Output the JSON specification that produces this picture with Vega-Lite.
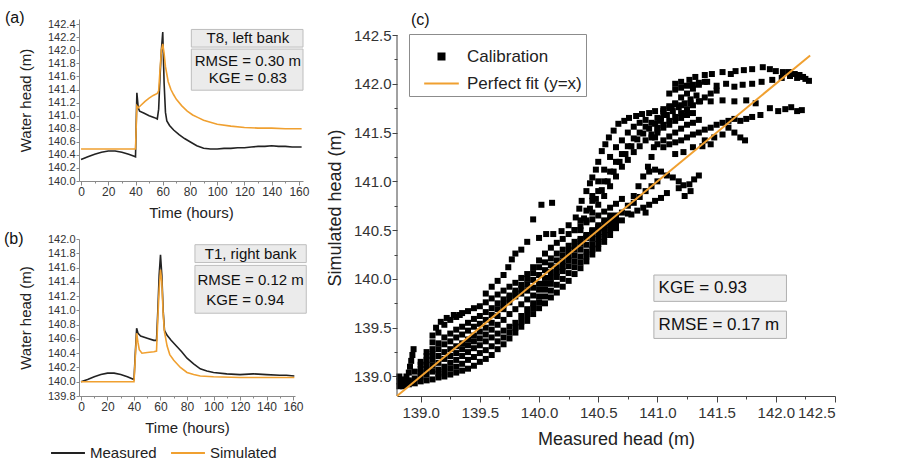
{
  "$schema": "https://vega.github.io/schema/vega-lite/v6.json",
  "background": "white",
  "padding": {"left": 4, "top": 10, "right": 0, "bottom": 0},
  "config": {
    "font": "Liberation Sans",
    "view": {"stroke": null},
    "axis": {"grid": false, "domainColor": "#8a8a8a", "tickColor": "#8a8a8a", "labelColor": "#333333", "titleColor": "#222222", "titleFontWeight": "normal", "labelOverlap": false},
    "title": {"fontWeight": "normal", "fontSize": 16, "anchor": "start", "frame": "group", "color": "#111111"},
    "text": {"font": "Liberation Sans", "color": "#111111"}
  },
  "datasets": {
    "a": [
      {"time": 0, "head": 140.33, "series": "Measured"}, {"time": 5, "head": 140.37, "series": "Measured"}, {"time": 10, "head": 140.41, "series": "Measured"}, {"time": 15, "head": 140.44, "series": "Measured"}, {"time": 20, "head": 140.46, "series": "Measured"}, {"time": 25, "head": 140.46, "series": "Measured"}, {"time": 30, "head": 140.44, "series": "Measured"}, {"time": 35, "head": 140.41, "series": "Measured"}, {"time": 39, "head": 140.38, "series": "Measured"}, {"time": 40, "head": 140.37, "series": "Measured"}, {"time": 41, "head": 141.35, "series": "Measured"}, {"time": 42, "head": 141.12, "series": "Measured"}, {"time": 43, "head": 141.07, "series": "Measured"}, {"time": 46, "head": 141.04, "series": "Measured"}, {"time": 50, "head": 141.0, "series": "Measured"}, {"time": 54, "head": 140.97, "series": "Measured"}, {"time": 56, "head": 140.95, "series": "Measured"}, {"time": 57, "head": 141.1, "series": "Measured"}, {"time": 58, "head": 141.6, "series": "Measured"}, {"time": 59, "head": 142.0, "series": "Measured"}, {"time": 60, "head": 142.28, "series": "Measured"}, {"time": 61, "head": 141.5, "series": "Measured"}, {"time": 62, "head": 141.05, "series": "Measured"}, {"time": 63, "head": 140.92, "series": "Measured"}, {"time": 65, "head": 140.85, "series": "Measured"}, {"time": 68, "head": 140.78, "series": "Measured"}, {"time": 72, "head": 140.71, "series": "Measured"}, {"time": 76, "head": 140.65, "series": "Measured"}, {"time": 80, "head": 140.6, "series": "Measured"}, {"time": 85, "head": 140.54, "series": "Measured"}, {"time": 90, "head": 140.5, "series": "Measured"}, {"time": 95, "head": 140.49, "series": "Measured"}, {"time": 100, "head": 140.49, "series": "Measured"}, {"time": 105, "head": 140.5, "series": "Measured"}, {"time": 110, "head": 140.5, "series": "Measured"}, {"time": 115, "head": 140.51, "series": "Measured"}, {"time": 120, "head": 140.51, "series": "Measured"}, {"time": 125, "head": 140.52, "series": "Measured"}, {"time": 130, "head": 140.53, "series": "Measured"}, {"time": 135, "head": 140.53, "series": "Measured"}, {"time": 140, "head": 140.54, "series": "Measured"}, {"time": 145, "head": 140.53, "series": "Measured"}, {"time": 150, "head": 140.53, "series": "Measured"}, {"time": 155, "head": 140.52, "series": "Measured"}, {"time": 162, "head": 140.52, "series": "Measured"},
      {"time": 0, "head": 140.49, "series": "Simulated"}, {"time": 40, "head": 140.49, "series": "Simulated"}, {"time": 41, "head": 141.15, "series": "Simulated"}, {"time": 42, "head": 141.12, "series": "Simulated"}, {"time": 44, "head": 141.16, "series": "Simulated"}, {"time": 47, "head": 141.22, "series": "Simulated"}, {"time": 50, "head": 141.27, "series": "Simulated"}, {"time": 53, "head": 141.31, "series": "Simulated"}, {"time": 56, "head": 141.34, "series": "Simulated"}, {"time": 57, "head": 141.38, "series": "Simulated"}, {"time": 58, "head": 141.7, "series": "Simulated"}, {"time": 59, "head": 142.0, "series": "Simulated"}, {"time": 60, "head": 142.1, "series": "Simulated"}, {"time": 61, "head": 141.95, "series": "Simulated"}, {"time": 62, "head": 141.75, "series": "Simulated"}, {"time": 64, "head": 141.52, "series": "Simulated"}, {"time": 66, "head": 141.4, "series": "Simulated"}, {"time": 68, "head": 141.32, "series": "Simulated"}, {"time": 70, "head": 141.25, "series": "Simulated"}, {"time": 74, "head": 141.15, "series": "Simulated"}, {"time": 78, "head": 141.07, "series": "Simulated"}, {"time": 82, "head": 141.01, "series": "Simulated"}, {"time": 86, "head": 140.97, "series": "Simulated"}, {"time": 90, "head": 140.93, "series": "Simulated"}, {"time": 95, "head": 140.9, "series": "Simulated"}, {"time": 100, "head": 140.87, "series": "Simulated"}, {"time": 110, "head": 140.84, "series": "Simulated"}, {"time": 120, "head": 140.82, "series": "Simulated"}, {"time": 130, "head": 140.81, "series": "Simulated"}, {"time": 140, "head": 140.81, "series": "Simulated"}, {"time": 150, "head": 140.8, "series": "Simulated"}, {"time": 162, "head": 140.8, "series": "Simulated"}
    ],
    "b": [
      {"time": 0, "head": 140.0, "series": "Measured"}, {"time": 5, "head": 140.03, "series": "Measured"}, {"time": 10, "head": 140.07, "series": "Measured"}, {"time": 15, "head": 140.1, "series": "Measured"}, {"time": 20, "head": 140.12, "series": "Measured"}, {"time": 25, "head": 140.12, "series": "Measured"}, {"time": 30, "head": 140.1, "series": "Measured"}, {"time": 35, "head": 140.07, "series": "Measured"}, {"time": 40, "head": 140.03, "series": "Measured"}, {"time": 41, "head": 140.4, "series": "Measured"}, {"time": 42, "head": 140.75, "series": "Measured"}, {"time": 43, "head": 140.68, "series": "Measured"}, {"time": 45, "head": 140.64, "series": "Measured"}, {"time": 50, "head": 140.61, "series": "Measured"}, {"time": 55, "head": 140.58, "series": "Measured"}, {"time": 57, "head": 140.58, "series": "Measured"}, {"time": 58, "head": 141.0, "series": "Measured"}, {"time": 59, "head": 141.5, "series": "Measured"}, {"time": 60, "head": 141.78, "series": "Measured"}, {"time": 61, "head": 141.5, "series": "Measured"}, {"time": 62, "head": 141.0, "series": "Measured"}, {"time": 63, "head": 140.72, "series": "Measured"}, {"time": 65, "head": 140.65, "series": "Measured"}, {"time": 68, "head": 140.58, "series": "Measured"}, {"time": 72, "head": 140.5, "series": "Measured"}, {"time": 76, "head": 140.42, "series": "Measured"}, {"time": 80, "head": 140.33, "series": "Measured"}, {"time": 85, "head": 140.25, "series": "Measured"}, {"time": 90, "head": 140.18, "series": "Measured"}, {"time": 95, "head": 140.15, "series": "Measured"}, {"time": 100, "head": 140.13, "series": "Measured"}, {"time": 110, "head": 140.11, "series": "Measured"}, {"time": 120, "head": 140.1, "series": "Measured"}, {"time": 130, "head": 140.11, "series": "Measured"}, {"time": 140, "head": 140.1, "series": "Measured"}, {"time": 150, "head": 140.09, "series": "Measured"}, {"time": 155, "head": 140.09, "series": "Measured"}, {"time": 161, "head": 140.08, "series": "Measured"},
      {"time": 0, "head": 140.0, "series": "Simulated"}, {"time": 40, "head": 140.0, "series": "Simulated"}, {"time": 41, "head": 140.35, "series": "Simulated"}, {"time": 42, "head": 140.68, "series": "Simulated"}, {"time": 43, "head": 140.55, "series": "Simulated"}, {"time": 44, "head": 140.45, "series": "Simulated"}, {"time": 46, "head": 140.4, "series": "Simulated"}, {"time": 50, "head": 140.41, "series": "Simulated"}, {"time": 55, "head": 140.42, "series": "Simulated"}, {"time": 57, "head": 140.43, "series": "Simulated"}, {"time": 58, "head": 140.9, "series": "Simulated"}, {"time": 59, "head": 141.3, "series": "Simulated"}, {"time": 60, "head": 141.57, "series": "Simulated"}, {"time": 61, "head": 141.4, "series": "Simulated"}, {"time": 62, "head": 140.95, "series": "Simulated"}, {"time": 63, "head": 140.7, "series": "Simulated"}, {"time": 65, "head": 140.5, "series": "Simulated"}, {"time": 67, "head": 140.38, "series": "Simulated"}, {"time": 70, "head": 140.3, "series": "Simulated"}, {"time": 75, "head": 140.2, "series": "Simulated"}, {"time": 80, "head": 140.13, "series": "Simulated"}, {"time": 85, "head": 140.1, "series": "Simulated"}, {"time": 90, "head": 140.08, "series": "Simulated"}, {"time": 100, "head": 140.07, "series": "Simulated"}, {"time": 120, "head": 140.06, "series": "Simulated"}, {"time": 140, "head": 140.06, "series": "Simulated"}, {"time": 161, "head": 140.06, "series": "Simulated"}
    ],
    "fit": [{"meas": 138.8, "sim": 138.8}, {"meas": 142.29, "sim": 142.29}],
    "calib": [
      {"meas": 138.82, "sim": 138.9}, {"meas": 138.86, "sim": 138.91}, {"meas": 138.82, "sim": 138.95}, {"meas": 138.86, "sim": 138.97}, {"meas": 138.9, "sim": 138.96}, {"meas": 138.82, "sim": 139.0}, {"meas": 138.88, "sim": 139.0},
      {"meas": 138.9, "sim": 139.04}, {"meas": 138.91, "sim": 139.1}, {"meas": 138.92, "sim": 139.16}, {"meas": 138.93, "sim": 139.22}, {"meas": 138.94, "sim": 139.28},
      {"meas": 138.85, "sim": 138.9}, {"meas": 138.9, "sim": 138.92}, {"meas": 138.95, "sim": 138.93}, {"meas": 139.0, "sim": 138.95}, {"meas": 139.05, "sim": 138.96}, {"meas": 139.1, "sim": 138.97}, {"meas": 139.15, "sim": 138.99}, {"meas": 139.2, "sim": 139.0}, {"meas": 139.25, "sim": 139.02}, {"meas": 139.3, "sim": 139.04}, {"meas": 139.35, "sim": 139.06}, {"meas": 139.4, "sim": 139.08}, {"meas": 139.45, "sim": 139.11}, {"meas": 139.5, "sim": 139.15}, {"meas": 139.55, "sim": 139.18}, {"meas": 139.6, "sim": 139.22}, {"meas": 139.65, "sim": 139.28}, {"meas": 139.7, "sim": 139.33}, {"meas": 139.75, "sim": 139.39}, {"meas": 139.8, "sim": 139.45}, {"meas": 139.85, "sim": 139.51}, {"meas": 139.9, "sim": 139.57}, {"meas": 139.95, "sim": 139.64}, {"meas": 140.0, "sim": 139.7}, {"meas": 140.05, "sim": 139.75}, {"meas": 140.1, "sim": 139.81}, {"meas": 140.15, "sim": 139.86}, {"meas": 140.2, "sim": 139.92}, {"meas": 140.25, "sim": 139.98}, {"meas": 140.3, "sim": 140.05}, {"meas": 140.35, "sim": 140.11}, {"meas": 140.4, "sim": 140.18}, {"meas": 140.45, "sim": 140.25}, {"meas": 140.5, "sim": 140.31}, {"meas": 140.55, "sim": 140.38}, {"meas": 140.6, "sim": 140.45}, {"meas": 140.65, "sim": 140.52}, {"meas": 140.7, "sim": 140.6}, {"meas": 140.75, "sim": 140.67},
      {"meas": 139.15, "sim": 139.03}, {"meas": 139.2, "sim": 139.05}, {"meas": 139.25, "sim": 139.08}, {"meas": 139.3, "sim": 139.1}, {"meas": 139.35, "sim": 139.13}, {"meas": 139.4, "sim": 139.17}, {"meas": 139.45, "sim": 139.2}, {"meas": 139.5, "sim": 139.24}, {"meas": 139.55, "sim": 139.27}, {"meas": 139.6, "sim": 139.31}, {"meas": 139.65, "sim": 139.36}, {"meas": 139.7, "sim": 139.4}, {"meas": 139.75, "sim": 139.45}, {"meas": 139.8, "sim": 139.5}, {"meas": 139.85, "sim": 139.56}, {"meas": 139.9, "sim": 139.63}, {"meas": 139.95, "sim": 139.7}, {"meas": 140.0, "sim": 139.76}, {"meas": 140.05, "sim": 139.82}, {"meas": 140.1, "sim": 139.88}, {"meas": 140.15, "sim": 139.94}, {"meas": 140.2, "sim": 140.0}, {"meas": 140.25, "sim": 140.06}, {"meas": 140.3, "sim": 140.12}, {"meas": 140.35, "sim": 140.17}, {"meas": 140.4, "sim": 140.23}, {"meas": 140.45, "sim": 140.3}, {"meas": 140.5, "sim": 140.36}, {"meas": 140.55, "sim": 140.43}, {"meas": 140.6, "sim": 140.5}, {"meas": 140.65, "sim": 140.57},
      {"meas": 138.85, "sim": 138.93}, {"meas": 138.9, "sim": 138.95}, {"meas": 138.95, "sim": 138.98}, {"meas": 139.0, "sim": 139.0}, {"meas": 139.05, "sim": 139.02}, {"meas": 139.1, "sim": 139.05}, {"meas": 139.15, "sim": 139.07}, {"meas": 139.2, "sim": 139.1}, {"meas": 139.25, "sim": 139.14}, {"meas": 139.3, "sim": 139.17}, {"meas": 139.35, "sim": 139.21}, {"meas": 139.4, "sim": 139.25}, {"meas": 139.45, "sim": 139.29}, {"meas": 139.5, "sim": 139.32}, {"meas": 139.55, "sim": 139.36}, {"meas": 139.6, "sim": 139.4}, {"meas": 139.65, "sim": 139.44}, {"meas": 139.7, "sim": 139.47}, {"meas": 139.75, "sim": 139.51}, {"meas": 139.8, "sim": 139.55}, {"meas": 139.85, "sim": 139.62}, {"meas": 139.9, "sim": 139.69}, {"meas": 139.95, "sim": 139.75}, {"meas": 140.0, "sim": 139.82}, {"meas": 140.05, "sim": 139.89}, {"meas": 140.1, "sim": 139.95}, {"meas": 140.15, "sim": 140.02}, {"meas": 140.2, "sim": 140.08}, {"meas": 140.25, "sim": 140.13}, {"meas": 140.3, "sim": 140.18}, {"meas": 140.35, "sim": 140.23}, {"meas": 140.4, "sim": 140.28}, {"meas": 140.45, "sim": 140.35}, {"meas": 140.5, "sim": 140.41}, {"meas": 140.55, "sim": 140.48}, {"meas": 140.6, "sim": 140.55}, {"meas": 140.65, "sim": 140.61}, {"meas": 140.7, "sim": 140.68}, {"meas": 140.75, "sim": 140.75},
      {"meas": 139.0, "sim": 139.04}, {"meas": 139.05, "sim": 139.07}, {"meas": 139.1, "sim": 139.11}, {"meas": 139.15, "sim": 139.14}, {"meas": 139.2, "sim": 139.18}, {"meas": 139.25, "sim": 139.21}, {"meas": 139.3, "sim": 139.24}, {"meas": 139.35, "sim": 139.28}, {"meas": 139.4, "sim": 139.32}, {"meas": 139.45, "sim": 139.36}, {"meas": 139.5, "sim": 139.39}, {"meas": 139.55, "sim": 139.43}, {"meas": 139.6, "sim": 139.48}, {"meas": 139.65, "sim": 139.53}, {"meas": 139.7, "sim": 139.58}, {"meas": 139.75, "sim": 139.64}, {"meas": 139.8, "sim": 139.69}, {"meas": 139.85, "sim": 139.74}, {"meas": 139.9, "sim": 139.79}, {"meas": 139.95, "sim": 139.83}, {"meas": 140.0, "sim": 139.89}, {"meas": 140.05, "sim": 139.95}, {"meas": 140.1, "sim": 140.01}, {"meas": 140.15, "sim": 140.07}, {"meas": 140.2, "sim": 140.13}, {"meas": 140.25, "sim": 140.19}, {"meas": 140.3, "sim": 140.24}, {"meas": 140.35, "sim": 140.3}, {"meas": 140.4, "sim": 140.35}, {"meas": 140.45, "sim": 140.41}, {"meas": 140.5, "sim": 140.46}, {"meas": 140.55, "sim": 140.52}, {"meas": 140.6, "sim": 140.58},
      {"meas": 138.95, "sim": 139.05}, {"meas": 139.0, "sim": 139.08}, {"meas": 139.05, "sim": 139.12}, {"meas": 139.1, "sim": 139.17}, {"meas": 139.15, "sim": 139.21}, {"meas": 139.2, "sim": 139.25}, {"meas": 139.25, "sim": 139.28}, {"meas": 139.3, "sim": 139.31}, {"meas": 139.35, "sim": 139.34}, {"meas": 139.4, "sim": 139.38}, {"meas": 139.45, "sim": 139.42}, {"meas": 139.5, "sim": 139.46}, {"meas": 139.55, "sim": 139.5}, {"meas": 139.6, "sim": 139.55}, {"meas": 139.65, "sim": 139.62}, {"meas": 139.7, "sim": 139.69}, {"meas": 139.75, "sim": 139.76}, {"meas": 139.8, "sim": 139.82}, {"meas": 139.85, "sim": 139.85}, {"meas": 139.9, "sim": 139.88}, {"meas": 139.95, "sim": 139.91}, {"meas": 140.0, "sim": 139.95}, {"meas": 140.05, "sim": 140.01}, {"meas": 140.1, "sim": 140.07}, {"meas": 140.15, "sim": 140.12}, {"meas": 140.2, "sim": 140.18}, {"meas": 140.25, "sim": 140.24}, {"meas": 140.3, "sim": 140.3}, {"meas": 140.35, "sim": 140.36}, {"meas": 140.4, "sim": 140.42}, {"meas": 140.45, "sim": 140.47}, {"meas": 140.5, "sim": 140.51}, {"meas": 140.55, "sim": 140.56}, {"meas": 140.6, "sim": 140.6}, {"meas": 140.65, "sim": 140.65},
      {"meas": 139.0, "sim": 139.12}, {"meas": 139.05, "sim": 139.17}, {"meas": 139.1, "sim": 139.23}, {"meas": 139.15, "sim": 139.28}, {"meas": 139.2, "sim": 139.33}, {"meas": 139.25, "sim": 139.36}, {"meas": 139.3, "sim": 139.4}, {"meas": 139.35, "sim": 139.43}, {"meas": 139.4, "sim": 139.47}, {"meas": 139.45, "sim": 139.51}, {"meas": 139.5, "sim": 139.54}, {"meas": 139.55, "sim": 139.58}, {"meas": 139.6, "sim": 139.63}, {"meas": 139.65, "sim": 139.69}, {"meas": 139.7, "sim": 139.74}, {"meas": 139.75, "sim": 139.8}, {"meas": 139.8, "sim": 139.85}, {"meas": 139.85, "sim": 139.9}, {"meas": 139.9, "sim": 139.94}, {"meas": 139.95, "sim": 139.99}, {"meas": 140.0, "sim": 140.04}, {"meas": 140.05, "sim": 140.09}, {"meas": 140.1, "sim": 140.14}, {"meas": 140.15, "sim": 140.19}, {"meas": 140.2, "sim": 140.24}, {"meas": 140.25, "sim": 140.29}, {"meas": 140.3, "sim": 140.34}, {"meas": 140.35, "sim": 140.39}, {"meas": 140.4, "sim": 140.44}, {"meas": 140.45, "sim": 140.49}, {"meas": 140.5, "sim": 140.53},
      {"meas": 139.0, "sim": 139.15}, {"meas": 139.05, "sim": 139.21}, {"meas": 139.1, "sim": 139.28}, {"meas": 139.15, "sim": 139.34}, {"meas": 139.2, "sim": 139.4}, {"meas": 139.25, "sim": 139.44}, {"meas": 139.3, "sim": 139.48}, {"meas": 139.35, "sim": 139.51}, {"meas": 139.4, "sim": 139.55}, {"meas": 139.45, "sim": 139.59}, {"meas": 139.5, "sim": 139.62}, {"meas": 139.55, "sim": 139.66}, {"meas": 139.6, "sim": 139.7}, {"meas": 139.65, "sim": 139.75}, {"meas": 139.7, "sim": 139.79}, {"meas": 139.75, "sim": 139.83}, {"meas": 139.8, "sim": 139.88}, {"meas": 139.85, "sim": 139.94}, {"meas": 139.9, "sim": 140.0}, {"meas": 139.95, "sim": 140.06}, {"meas": 140.0, "sim": 140.12}, {"meas": 140.05, "sim": 140.17}, {"meas": 140.1, "sim": 140.21}, {"meas": 140.15, "sim": 140.26}, {"meas": 140.2, "sim": 140.3}, {"meas": 140.25, "sim": 140.34}, {"meas": 140.3, "sim": 140.38}, {"meas": 140.35, "sim": 140.41}, {"meas": 140.4, "sim": 140.45}, {"meas": 140.45, "sim": 140.5}, {"meas": 140.5, "sim": 140.55}, {"meas": 140.55, "sim": 140.6}, {"meas": 140.6, "sim": 140.65},
      {"meas": 139.05, "sim": 139.25}, {"meas": 139.1, "sim": 139.35}, {"meas": 139.15, "sim": 139.45}, {"meas": 139.2, "sim": 139.53}, {"meas": 139.25, "sim": 139.58}, {"meas": 139.3, "sim": 139.61}, {"meas": 139.35, "sim": 139.65}, {"meas": 139.4, "sim": 139.67}, {"meas": 139.45, "sim": 139.7}, {"meas": 139.5, "sim": 139.72}, {"meas": 139.55, "sim": 139.76}, {"meas": 139.6, "sim": 139.8}, {"meas": 139.65, "sim": 139.84}, {"meas": 139.7, "sim": 139.88}, {"meas": 139.75, "sim": 139.92}, {"meas": 139.8, "sim": 139.96}, {"meas": 139.85, "sim": 140.01}, {"meas": 139.9, "sim": 140.05}, {"meas": 139.95, "sim": 140.12}, {"meas": 140.0, "sim": 140.19}, {"meas": 140.05, "sim": 140.26}, {"meas": 140.1, "sim": 140.32}, {"meas": 140.15, "sim": 140.37}, {"meas": 140.2, "sim": 140.41}, {"meas": 140.25, "sim": 140.46}, {"meas": 140.3, "sim": 140.5}, {"meas": 140.35, "sim": 140.54}, {"meas": 140.4, "sim": 140.58}, {"meas": 140.45, "sim": 140.61}, {"meas": 140.5, "sim": 140.65}, {"meas": 140.55, "sim": 140.69}, {"meas": 140.6, "sim": 140.73}, {"meas": 140.65, "sim": 140.77}, {"meas": 140.7, "sim": 140.82},
      {"meas": 139.1, "sim": 139.42}, {"meas": 139.13, "sim": 139.5}, {"meas": 139.17, "sim": 139.56}, {"meas": 139.22, "sim": 139.6}, {"meas": 139.28, "sim": 139.63}, {"meas": 139.33, "sim": 139.63},
      {"meas": 139.55, "sim": 139.85}, {"meas": 139.6, "sim": 139.92}, {"meas": 139.65, "sim": 139.98}, {"meas": 139.7, "sim": 140.04}, {"meas": 139.74, "sim": 140.12}, {"meas": 139.77, "sim": 140.2}, {"meas": 139.8, "sim": 140.26}, {"meas": 139.85, "sim": 140.3}, {"meas": 139.95, "sim": 140.61}, {"meas": 140.02, "sim": 140.76}, {"meas": 140.11, "sim": 140.78}, {"meas": 139.9, "sim": 140.38}, {"meas": 140.0, "sim": 140.42}, {"meas": 140.06, "sim": 140.46},
      {"meas": 140.12, "sim": 140.46}, {"meas": 140.19, "sim": 140.49}, {"meas": 140.25, "sim": 140.55}, {"meas": 140.31, "sim": 140.63}, {"meas": 140.34, "sim": 140.72}, {"meas": 140.36, "sim": 140.8}, {"meas": 140.4, "sim": 140.9}, {"meas": 140.43, "sim": 140.98}, {"meas": 140.45, "sim": 141.04}, {"meas": 140.48, "sim": 141.12}, {"meas": 140.5, "sim": 141.2}, {"meas": 140.53, "sim": 141.31}, {"meas": 140.56, "sim": 141.38}, {"meas": 140.59, "sim": 141.45}, {"meas": 140.63, "sim": 141.52}, {"meas": 140.67, "sim": 141.59}, {"meas": 140.72, "sim": 141.62}, {"meas": 140.76, "sim": 141.65}, {"meas": 140.82, "sim": 141.67}, {"meas": 140.87, "sim": 141.69}, {"meas": 140.93, "sim": 141.7}, {"meas": 140.98, "sim": 141.72}, {"meas": 141.05, "sim": 141.74}, {"meas": 141.1, "sim": 141.77}, {"meas": 141.15, "sim": 141.79},
      {"meas": 140.45, "sim": 140.85}, {"meas": 140.5, "sim": 141.0}, {"meas": 140.55, "sim": 141.12}, {"meas": 140.6, "sim": 141.25}, {"meas": 140.65, "sim": 141.35}, {"meas": 140.7, "sim": 141.42}, {"meas": 140.75, "sim": 141.5}, {"meas": 140.8, "sim": 141.56}, {"meas": 140.85, "sim": 141.6}, {"meas": 140.9, "sim": 141.63},
      {"meas": 140.3, "sim": 140.5}, {"meas": 140.35, "sim": 140.6}, {"meas": 140.4, "sim": 140.7}, {"meas": 140.45, "sim": 140.8}, {"meas": 140.5, "sim": 140.9}, {"meas": 140.55, "sim": 141.0}, {"meas": 140.6, "sim": 141.1}, {"meas": 140.65, "sim": 141.2}, {"meas": 140.7, "sim": 141.28}, {"meas": 140.75, "sim": 141.36}, {"meas": 140.8, "sim": 141.44}, {"meas": 140.85, "sim": 141.5}, {"meas": 140.9, "sim": 141.56}, {"meas": 140.95, "sim": 141.6}, {"meas": 141.0, "sim": 141.65}, {"meas": 141.05, "sim": 141.7}, {"meas": 141.1, "sim": 141.75}, {"meas": 141.15, "sim": 141.8}, {"meas": 141.2, "sim": 141.86}, {"meas": 141.25, "sim": 141.9}, {"meas": 141.3, "sim": 141.95}, {"meas": 141.35, "sim": 141.99}, {"meas": 141.4, "sim": 142.02},
      {"meas": 140.38, "sim": 140.62}, {"meas": 140.43, "sim": 140.72}, {"meas": 140.48, "sim": 140.82}, {"meas": 140.53, "sim": 140.91}, {"meas": 140.58, "sim": 141.0}, {"meas": 140.63, "sim": 141.1}, {"meas": 140.68, "sim": 141.2}, {"meas": 140.73, "sim": 141.28}, {"meas": 140.78, "sim": 141.36}, {"meas": 140.83, "sim": 141.43}, {"meas": 140.88, "sim": 141.49}, {"meas": 140.93, "sim": 141.54}, {"meas": 140.98, "sim": 141.59}, {"meas": 141.03, "sim": 141.64}, {"meas": 141.08, "sim": 141.68}, {"meas": 141.13, "sim": 141.72}, {"meas": 141.18, "sim": 141.76}, {"meas": 141.23, "sim": 141.8}, {"meas": 141.28, "sim": 141.84}, {"meas": 141.33, "sim": 141.88},
      {"meas": 140.35, "sim": 140.5}, {"meas": 140.4, "sim": 140.6}, {"meas": 140.45, "sim": 140.68}, {"meas": 140.5, "sim": 140.76}, {"meas": 140.55, "sim": 140.85}, {"meas": 140.6, "sim": 140.95}, {"meas": 140.65, "sim": 141.05}, {"meas": 140.7, "sim": 141.15}, {"meas": 140.75, "sim": 141.22}, {"meas": 140.8, "sim": 141.3}, {"meas": 140.85, "sim": 141.36}, {"meas": 140.9, "sim": 141.42}, {"meas": 140.95, "sim": 141.48}, {"meas": 141.0, "sim": 141.53}, {"meas": 141.05, "sim": 141.58}, {"meas": 141.1, "sim": 141.62}, {"meas": 141.15, "sim": 141.66}, {"meas": 141.2, "sim": 141.7}, {"meas": 141.25, "sim": 141.74}, {"meas": 141.3, "sim": 141.78}, {"meas": 141.35, "sim": 141.82}, {"meas": 141.4, "sim": 141.86}, {"meas": 141.45, "sim": 141.9}, {"meas": 141.5, "sim": 141.93},
      {"meas": 140.8, "sim": 140.85}, {"meas": 140.84, "sim": 140.95}, {"meas": 140.88, "sim": 141.05}, {"meas": 140.92, "sim": 141.15}, {"meas": 140.95, "sim": 141.25}, {"meas": 140.97, "sim": 141.35}, {"meas": 140.98, "sim": 141.45}, {"meas": 141.0, "sim": 141.55}, {"meas": 141.02, "sim": 141.62}, {"meas": 140.93, "sim": 141.1}, {"meas": 140.98, "sim": 141.12}, {"meas": 141.03, "sim": 141.1}, {"meas": 141.08, "sim": 141.06}, {"meas": 141.13, "sim": 141.04}, {"meas": 141.18, "sim": 141.0}, {"meas": 141.22, "sim": 140.96}, {"meas": 141.27, "sim": 140.97}, {"meas": 141.31, "sim": 141.02}, {"meas": 141.35, "sim": 141.06}, {"meas": 141.28, "sim": 140.9}, {"meas": 141.23, "sim": 140.85}, {"meas": 141.18, "sim": 140.93},
      {"meas": 140.78, "sim": 140.66}, {"meas": 140.83, "sim": 140.7}, {"meas": 140.88, "sim": 140.73}, {"meas": 140.93, "sim": 140.76}, {"meas": 140.98, "sim": 140.8}, {"meas": 141.03, "sim": 140.83}, {"meas": 140.9, "sim": 140.68}, {"meas": 141.08, "sim": 140.88}, {"meas": 140.8, "sim": 140.78}, {"meas": 140.85, "sim": 140.84}, {"meas": 140.9, "sim": 140.9}, {"meas": 140.95, "sim": 140.95}, {"meas": 141.0, "sim": 141.0},
      {"meas": 141.15, "sim": 142.0}, {"meas": 141.2, "sim": 142.02}, {"meas": 141.27, "sim": 142.04}, {"meas": 141.32, "sim": 142.07}, {"meas": 141.4, "sim": 142.09}, {"meas": 141.46, "sim": 142.1}, {"meas": 141.55, "sim": 142.12}, {"meas": 141.62, "sim": 142.1}, {"meas": 141.66, "sim": 142.13}, {"meas": 141.73, "sim": 142.14}, {"meas": 141.8, "sim": 142.15}, {"meas": 141.89, "sim": 142.17}, {"meas": 141.95, "sim": 142.15}, {"meas": 142.0, "sim": 142.13}, {"meas": 142.06, "sim": 142.12}, {"meas": 142.11, "sim": 142.12}, {"meas": 142.16, "sim": 142.1}, {"meas": 142.2, "sim": 142.09}, {"meas": 142.23, "sim": 142.07}, {"meas": 142.28, "sim": 142.03}, {"meas": 142.25, "sim": 142.05}, {"meas": 142.18, "sim": 142.06},
      {"meas": 141.1, "sim": 141.9}, {"meas": 141.15, "sim": 141.94}, {"meas": 141.2, "sim": 141.96}, {"meas": 141.25, "sim": 141.98}, {"meas": 141.3, "sim": 141.99}, {"meas": 141.35, "sim": 142.01}, {"meas": 141.42, "sim": 142.02}, {"meas": 141.5, "sim": 141.98}, {"meas": 141.58, "sim": 142.0}, {"meas": 141.65, "sim": 141.97}, {"meas": 141.72, "sim": 141.99}, {"meas": 141.8, "sim": 142.0}, {"meas": 141.88, "sim": 142.02}, {"meas": 141.97, "sim": 142.04}, {"meas": 142.05, "sim": 142.06}, {"meas": 142.12, "sim": 142.08},
      {"meas": 141.05, "sim": 141.72}, {"meas": 141.12, "sim": 141.76}, {"meas": 141.2, "sim": 141.78}, {"meas": 141.28, "sim": 141.8}, {"meas": 141.36, "sim": 141.82}, {"meas": 141.45, "sim": 141.82}, {"meas": 141.55, "sim": 141.83}, {"meas": 141.65, "sim": 141.82}, {"meas": 141.75, "sim": 141.83}, {"meas": 141.83, "sim": 141.8},
      {"meas": 141.95, "sim": 141.75}, {"meas": 142.02, "sim": 141.72}, {"meas": 142.08, "sim": 141.74}, {"meas": 142.13, "sim": 141.76}, {"meas": 142.18, "sim": 141.72}, {"meas": 142.22, "sim": 141.73},
      {"meas": 141.05, "sim": 141.35}, {"meas": 141.1, "sim": 141.38}, {"meas": 141.15, "sim": 141.4}, {"meas": 141.2, "sim": 141.42}, {"meas": 141.25, "sim": 141.45}, {"meas": 141.3, "sim": 141.48}, {"meas": 141.35, "sim": 141.5}, {"meas": 141.4, "sim": 141.53}, {"meas": 141.45, "sim": 141.55}, {"meas": 141.5, "sim": 141.58}, {"meas": 141.55, "sim": 141.6}, {"meas": 141.6, "sim": 141.62}, {"meas": 141.65, "sim": 141.64}, {"meas": 141.7, "sim": 141.62}, {"meas": 141.75, "sim": 141.64}, {"meas": 141.8, "sim": 141.66}, {"meas": 141.87, "sim": 141.68}, {"meas": 141.6, "sim": 141.55}, {"meas": 141.65, "sim": 141.5}, {"meas": 141.7, "sim": 141.45}, {"meas": 141.74, "sim": 141.42}, {"meas": 141.55, "sim": 141.48}, {"meas": 141.48, "sim": 141.45}, {"meas": 141.4, "sim": 141.42}, {"meas": 141.3, "sim": 141.35}, {"meas": 141.22, "sim": 141.3}, {"meas": 141.15, "sim": 141.28}, {"meas": 141.38, "sim": 141.36}, {"meas": 141.45, "sim": 141.38},
      {"meas": 140.95, "sim": 141.45}, {"meas": 141.0, "sim": 141.5}, {"meas": 141.05, "sim": 141.55}, {"meas": 141.1, "sim": 141.58}, {"meas": 141.15, "sim": 141.62}, {"meas": 141.2, "sim": 141.65}, {"meas": 141.25, "sim": 141.68}, {"meas": 141.3, "sim": 141.7}, {"meas": 141.0, "sim": 141.38}, {"meas": 141.05, "sim": 141.42}, {"meas": 141.1, "sim": 141.46}, {"meas": 141.15, "sim": 141.5}, {"meas": 141.2, "sim": 141.54}, {"meas": 141.25, "sim": 141.58}, {"meas": 141.3, "sim": 141.6}, {"meas": 141.35, "sim": 141.63}
    ]
  },
  "resolve": {"scale": {"color": "independent"}, "legend": {"color": "independent"}},
  "align": "none",
  "spacing": 17,
  "hconcat": [
    {
      "bounds": "flush",
      "spacing": 58,
      "resolve": {"scale": {"color": "independent"}, "legend": {"color": "independent"}},
      "vconcat": [
        {
          "width": 224,
          "height": 162,
          "title": {"text": "(a)", "dx": -74, "offset": -8},
          "layer": [
            {
              "data": {"name": "a"},
              "mark": {"type": "line", "strokeWidth": 1.6},
              "encoding": {
                "x": {"field": "time", "type": "quantitative", "title": "Time (hours)",
                  "scale": {"domain": [-1.5, 163], "nice": false, "zero": false},
                  "axis": {"values": [0, 10, 20, 30, 40, 50, 60, 70, 80, 90, 100, 110, 120, 130, 140, 150, 160], "tickCount": 40, "labelExpr": "datum.value % 20 === 0 ? datum.label : ''", "tickSize": {"condition": {"test": "datum.value % 20 !== 0", "value": 2}, "value": 4}, "labelFontSize": 12, "labelPadding": 1, "titleFontSize": 15, "titlePadding": 8}},
                "y": {"field": "head", "type": "quantitative", "title": "Water head (m)",
                  "scale": {"domain": [140, 142.48], "nice": false, "zero": false},
                  "axis": {"values": [140, 140.2, 140.4, 140.6, 140.8, 141, 141.2, 141.4, 141.6, 141.8, 142, 142.2, 142.4], "tickCount": 40, "format": ".1f", "labelFontSize": 11, "tickSize": 3, "labelPadding": 1, "titleFontSize": 15, "titlePadding": 14}},
                "color": {"field": "series", "type": "nominal", "scale": {"domain": ["Measured", "Simulated"], "range": ["#222222", "#F0A030"]}, "legend": null}
              }
            },
            {
              "data": {"values": [{}]},
              "mark": {"type": "rect", "fill": "#ebebeb", "stroke": "#bdbdbd", "strokeWidth": 1},
              "encoding": {"x": {"datum": 81}, "x2": {"datum": 163}, "y": {"datum": 142.32}, "y2": {"datum": 142.05}}
            },
            {
              "data": {"values": [{}]},
              "mark": {"type": "rect", "fill": "#ebebeb", "stroke": "#bdbdbd", "strokeWidth": 1},
              "encoding": {"x": {"datum": 81}, "x2": {"datum": 163}, "y": {"datum": 142.02}, "y2": {"datum": 141.39}}
            },
            {
              "data": {"values": [{}]},
              "mark": {"type": "text", "fontSize": 15, "align": "center", "baseline": "middle"},
              "encoding": {"x": {"datum": 122.5}, "y": {"datum": 142.185}, "text": {"value": "T8, left bank"}}
            },
            {
              "data": {"values": [{}]},
              "mark": {"type": "text", "fontSize": 15, "align": "center", "baseline": "middle"},
              "encoding": {"x": {"datum": 122.5}, "y": {"datum": 141.83}, "text": {"value": "RMSE = 0.30 m"}}
            },
            {
              "data": {"values": [{}]},
              "mark": {"type": "text", "fontSize": 15, "align": "center", "baseline": "middle"},
              "encoding": {"x": {"datum": 122.5}, "y": {"datum": 141.58}, "text": {"value": "KGE = 0.83"}}
            }
          ]
        },
        {
          "width": 216,
          "height": 157,
          "title": {"text": "(b)", "dx": -75, "offset": -14},
          "layer": [
            {
              "data": {"name": "b"},
              "mark": {"type": "line", "strokeWidth": 1.6},
              "encoding": {
                "x": {"field": "time", "type": "quantitative", "title": "Time (hours)",
                  "scale": {"domain": [-1.5, 161.5], "nice": false, "zero": false},
                  "axis": {"values": [0, 10, 20, 30, 40, 50, 60, 70, 80, 90, 100, 110, 120, 130, 140, 150, 160], "tickCount": 40, "labelExpr": "datum.value % 20 === 0 ? datum.label : ''", "tickSize": {"condition": {"test": "datum.value % 20 !== 0", "value": 2}, "value": 4}, "labelFontSize": 12, "labelPadding": 1, "titleFontSize": 15, "titlePadding": 8}},
                "y": {"field": "head", "type": "quantitative", "title": "Water head (m)",
                  "scale": {"domain": [139.8, 142.0], "nice": false, "zero": false},
                  "axis": {"values": [139.8, 140, 140.2, 140.4, 140.6, 140.8, 141, 141.2, 141.4, 141.6, 141.8, 142], "tickCount": 40, "format": ".1f", "labelFontSize": 11, "tickSize": 3, "labelPadding": 1, "titleFontSize": 15, "titlePadding": 14}},
                "color": {"field": "series", "type": "nominal", "scale": {"domain": ["Measured", "Simulated"], "range": ["#222222", "#F0A030"]},
                  "legend": {"title": null, "orient": "none", "legendX": -29, "legendY": 196, "direction": "horizontal", "symbolType": "stroke", "symbolSize": 1150, "symbolStrokeWidth": 2, "labelFontSize": 15, "labelColor": "#222222", "labelOffset": 4, "columnPadding": 10, "padding": 0}}
              }
            },
            {
              "data": {"values": [{}]},
              "mark": {"type": "rect", "fill": "#ebebeb", "stroke": "#bdbdbd", "strokeWidth": 1},
              "encoding": {"x": {"datum": 86}, "x2": {"datum": 170}, "y": {"datum": 141.92}, "y2": {"datum": 141.67}}
            },
            {
              "data": {"values": [{}]},
              "mark": {"type": "rect", "fill": "#ebebeb", "stroke": "#bdbdbd", "strokeWidth": 1},
              "encoding": {"x": {"datum": 86}, "x2": {"datum": 170}, "y": {"datum": 141.63}, "y2": {"datum": 140.96}}
            },
            {
              "data": {"values": [{}]},
              "mark": {"type": "text", "fontSize": 15, "align": "center", "baseline": "middle"},
              "encoding": {"x": {"datum": 128}, "y": {"datum": 141.795}, "text": {"value": "T1, right bank"}}
            },
            {
              "data": {"values": [{}]},
              "mark": {"type": "text", "fontSize": 15, "align": "center", "baseline": "middle"},
              "encoding": {"x": {"datum": 128}, "y": {"datum": 141.43}, "text": {"value": "RMSE = 0.12 m"}}
            },
            {
              "data": {"values": [{}]},
              "mark": {"type": "text", "fontSize": 15, "align": "center", "baseline": "middle"},
              "encoding": {"x": {"datum": 124}, "y": {"datum": 141.14}, "text": {"value": "KGE = 0.94"}}
            }
          ]
        }
      ]
    },
    {
      "width": 438,
      "height": 377,
      "title": {"text": "(c)", "dx": 14, "offset": -9},
      "layer": [
        {
          "data": {"name": "calib"},
          "mark": {"type": "square", "size": 36, "filled": true, "opacity": 1},
          "encoding": {
            "x": {"field": "meas", "type": "quantitative", "title": "Measured head (m)",
              "scale": {"domain": [138.8, 142.5], "nice": false, "zero": false},
              "axis": {"values": [139, 139.25, 139.5, 139.75, 140, 140.25, 140.5, 140.75, 141, 141.25, 141.5, 141.75, 142, 142.25, 142.5], "tickCount": 40, "labelExpr": "round(datum.value * 100) % 50 === 0 ? format(datum.value, '.1f') : ''", "tickSize": {"condition": {"test": "round(datum.value * 100) % 50 !== 0", "value": 3}, "value": 6}, "domainColor": "#444444", "tickColor": "#444444", "labelFontSize": 15, "labelPadding": 3, "titleFontSize": 18, "titlePadding": 10}},
            "y": {"field": "sim", "type": "quantitative", "title": "Simulated head (m)",
              "scale": {"domain": [138.8, 142.664], "nice": false, "zero": false},
              "axis": {"values": [139, 139.25, 139.5, 139.75, 140, 140.25, 140.5, 140.75, 141, 141.25, 141.5, 141.75, 142, 142.25, 142.5], "tickCount": 40, "labelExpr": "round(datum.value * 100) % 50 === 0 ? format(datum.value, '.1f') : ''", "tickSize": {"condition": {"test": "round(datum.value * 100) % 50 !== 0", "value": 3}, "value": 5}, "domain": false, "tickColor": "#444444", "labelFontSize": 15, "labelPadding": 1, "titleFontSize": 18, "titlePadding": 9}},
            "color": {"datum": "Calibration", "type": "nominal",
              "scale": {"domain": ["Calibration", "Perfect fit (y=x)"], "range": ["#000000", "#F0A030"]},
              "legend": {"title": null, "orient": "none", "legendX": 12, "legendY": 15, "fillColor": "white", "strokeColor": "#8c8c8c", "padding": 4, "symbolOffset": 10, "labelFontSize": 17, "labelColor": "#222222", "labelOffset": 7, "rowPadding": 0, "symbolStrokeWidth": 2,
                "symbolType": {"expr": "datum.value === 'Calibration' ? 'square' : 'stroke'"},
                "symbolSize": {"expr": "datum.value === 'Calibration' ? 36 : 1200"},
                "symbolStrokeColor": {"expr": "datum.value === 'Calibration' ? '#000000' : '#F0A030'"}}}
          }
        },
        {
          "data": {"values": [{}]},
          "mark": {"type": "rule", "color": "#444444", "strokeWidth": 1},
          "encoding": {"x": {"datum": 138.8}, "y": {"datum": 138.8}, "y2": {"datum": 142.5}}
        },
        {
          "data": {"name": "fit"},
          "mark": {"type": "line", "strokeWidth": 2},
          "encoding": {
            "x": {"field": "meas", "type": "quantitative", "title": "Measured head (m)"},
            "y": {"field": "sim", "type": "quantitative", "title": "Simulated head (m)"},
            "color": {"datum": "Perfect fit (y=x)", "type": "nominal"}
          }
        },
        {
          "data": {"values": [{}]},
          "mark": {"type": "rect", "fill": "#eeeeee", "stroke": "#b0b0b0", "strokeWidth": 1},
          "encoding": {"x": {"datum": 140.97}, "x2": {"datum": 142.09}, "y": {"datum": 140.04}, "y2": {"datum": 139.77}}
        },
        {
          "data": {"values": [{}]},
          "mark": {"type": "rect", "fill": "#eeeeee", "stroke": "#b0b0b0", "strokeWidth": 1},
          "encoding": {"x": {"datum": 140.97}, "x2": {"datum": 142.09}, "y": {"datum": 139.67}, "y2": {"datum": 139.39}}
        },
        {
          "data": {"values": [{}]},
          "mark": {"type": "text", "fontSize": 17, "align": "left", "baseline": "middle"},
          "encoding": {"x": {"datum": 141.01}, "y": {"datum": 139.905}, "text": {"value": "KGE = 0.93"}}
        },
        {
          "data": {"values": [{}]},
          "mark": {"type": "text", "fontSize": 17, "align": "left", "baseline": "middle"},
          "encoding": {"x": {"datum": 141.01}, "y": {"datum": 139.53}, "text": {"value": "RMSE = 0.17 m"}}
        }
      ]
    }
  ]
}
